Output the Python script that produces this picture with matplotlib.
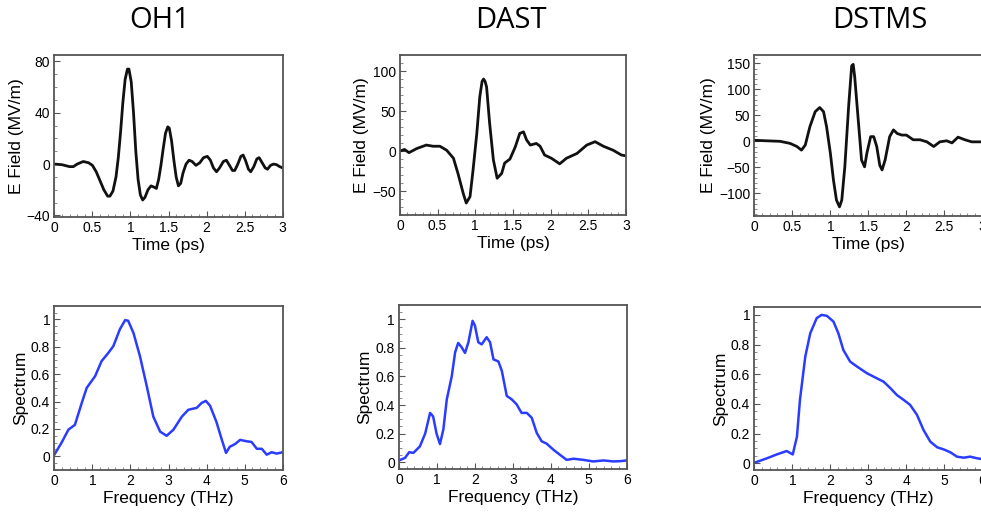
import matplotlib
matplotlib.use("Agg")
import matplotlib.pyplot as plt
from matplotlib.ticker import MultipleLocator

plt.rcParams['font.family'] = ['Liberation Sans', 'DejaVu Sans']

titles = ["OH1", "DAST", "DSTMS"]

# time-domain fields (ps, MV/m)
oh1_t = [0.00, 0.10, 0.20, 0.25, 0.30, 0.38, 0.45, 0.50, 0.55, 0.60, 0.65, 0.70, 0.73, 0.77,
         0.81, 0.84, 0.87, 0.90, 0.93, 0.96, 0.98, 1.01, 1.04, 1.07, 1.10, 1.13, 1.16, 1.19,
         1.23, 1.27, 1.31, 1.34, 1.37, 1.40, 1.43, 1.46, 1.49, 1.51, 1.54, 1.57, 1.60, 1.63,
         1.66, 1.69, 1.73, 1.77, 1.81, 1.86, 1.91, 1.96, 2.01, 2.05, 2.09, 2.13, 2.17, 2.22,
         2.26, 2.30, 2.34, 2.37, 2.41, 2.45, 2.48, 2.51, 2.55, 2.58, 2.62, 2.66, 2.69, 2.73,
         2.77, 2.80, 2.84, 2.88, 2.92, 2.96, 3.00]
oh1_e = [0, -0.5, -2, -2, 0, 2, 1, -1, -6, -13, -20, -25, -25, -21,
         -10, 5, 25, 48, 66, 74, 74, 64, 40, 10, -12, -24, -28, -26,
         -20, -17, -18, -19, -12, -1, 12, 24, 29, 28, 18, 3, -10, -17,
         -15, -7, 0, 3, 2, -1, 1, 5, 6, 3, -3, -6, -3, 2,
         3, -1, -5, -5, 0, 6, 7, 3, -4, -6, -2, 4, 5, 1,
         -3, -4, -1, 0, -0.5, -2, -3]

dast_t = [0.00, 0.06, 0.12, 0.22, 0.35, 0.44, 0.53, 0.62, 0.71, 0.77, 0.84, 0.88, 0.93, 0.97,
          1.02, 1.06, 1.09, 1.11, 1.13, 1.15, 1.19, 1.24, 1.29, 1.35, 1.39, 1.46, 1.53, 1.59,
          1.64, 1.68, 1.73, 1.81, 1.86, 1.92, 2.01, 2.12, 2.21, 2.35, 2.48, 2.59, 2.70, 2.83,
          2.94, 3.00]
dast_e = [0, 2, -2, 3, 7.5, 6, 6, 1, -9, -28, -53, -65, -57, -24,
          22, 68, 87, 90, 87, 80, 35, -11, -34, -28, -15, -10, 5, 22,
          24, 14, 7.5, 9.5, 6, -5, -9, -16, -9, -3, 7.5, 11.7, 6, 1,
          -5, -6]

dstms_t = [0.00, 0.16, 0.34, 0.47, 0.56, 0.62, 0.67, 0.73, 0.80, 0.86, 0.91, 0.95, 1.00, 1.04,
           1.08, 1.12, 1.15, 1.19, 1.24, 1.28, 1.30, 1.32, 1.37, 1.41, 1.45, 1.48, 1.53, 1.57,
           1.61, 1.65, 1.68, 1.72, 1.78, 1.83, 1.88, 1.94, 2.00, 2.09, 2.18, 2.27, 2.36, 2.44,
           2.53, 2.60, 2.68, 2.77, 2.86, 2.97]
dstms_e = [2, 1, 0, -4, -10, -17, -7, 28, 57, 65, 57, 28, -23, -74,
           -113, -126, -113, -49, 67, 145, 148, 124, 35, -36, -49, -23, 9, 9,
           -10, -46, -55, -36, 9, 22, 15, 12, 12, 3, 3, -1, -10, -1,
           1, -3, 8, 3, -1, -1]

# normalised spectra (THz, a.u.)
oh1_f = [0.00, 0.19, 0.37, 0.54, 0.72, 0.85, 1.07, 1.24, 1.42, 1.55, 1.72, 1.86, 1.94, 2.08,
         2.25, 2.43, 2.60, 2.78, 2.95, 3.13, 3.35, 3.52, 3.74, 3.87, 3.98, 4.09, 4.26, 4.39,
         4.51, 4.61, 4.75, 4.88, 5.05, 5.18, 5.32, 5.45, 5.58, 5.71, 5.84, 6.00]
oh1_s = [0.012, 0.10, 0.195, 0.23, 0.39, 0.50, 0.585, 0.695, 0.756, 0.805, 0.927, 0.995, 0.99, 0.90,
         0.73, 0.51, 0.29, 0.18, 0.15, 0.195, 0.29, 0.34, 0.354, 0.39, 0.405, 0.37, 0.25, 0.13,
         0.025, 0.07, 0.09, 0.12, 0.11, 0.105, 0.055, 0.055, 0.012, 0.03, 0.02, 0.03]

dast_f = [0.00, 0.16, 0.27, 0.38, 0.55, 0.69, 0.82, 0.90, 0.99, 1.08, 1.17, 1.26, 1.39, 1.48,
          1.56, 1.65, 1.74, 1.83, 1.94, 2.00, 2.09, 2.18, 2.31, 2.40, 2.49, 2.62, 2.71, 2.84,
          2.97, 3.10, 3.23, 3.37, 3.50, 3.63, 3.76, 3.89, 4.07, 4.24, 4.42, 4.60, 4.86, 5.12,
          5.39, 5.65, 5.83, 6.00]
dast_s = [0.012, 0.03, 0.07, 0.065, 0.11, 0.20, 0.345, 0.32, 0.20, 0.127, 0.23, 0.44, 0.60, 0.77,
          0.835, 0.805, 0.765, 0.84, 0.99, 0.958, 0.84, 0.825, 0.875, 0.84, 0.72, 0.705, 0.64, 0.464,
          0.44, 0.405, 0.345, 0.345, 0.31, 0.205, 0.146, 0.13, 0.087, 0.052, 0.016, 0.024, 0.016, 0.005,
          0.012, 0.005, 0.007, 0.012]

dstms_f = [0.00, 0.33, 0.59, 0.85, 1.01, 1.12, 1.20, 1.34, 1.47, 1.64, 1.77, 1.91, 2.08, 2.21,
           2.34, 2.52, 2.70, 2.96, 3.22, 3.40, 3.58, 3.75, 3.93, 4.10, 4.28, 4.45, 4.63, 4.81,
           4.98, 5.16, 5.33, 5.51, 5.68, 5.86, 5.98]
dstms_s = [0.004, 0.034, 0.06, 0.083, 0.06, 0.18, 0.43, 0.72, 0.876, 0.978, 1.0, 0.993, 0.955, 0.876,
           0.764, 0.685, 0.652, 0.607, 0.573, 0.55, 0.506, 0.46, 0.427, 0.393, 0.326, 0.225, 0.146, 0.108,
           0.094, 0.074, 0.045, 0.038, 0.045, 0.034, 0.029]

time_ticks = [0, 0.5, 1, 1.5, 2, 2.5, 3]
time_ticklabels = ['0', '0.5', '1', '1.5', '2', '2.5', '3']
spec_yticks = [0, 0.2, 0.4, 0.6, 0.8, 1]
spec_yticklabels = ['0', '0.2', '0.4', '0.6', '0.8', '1']

time_data = [(oh1_t, oh1_e), (dast_t, dast_e), (dstms_t, dstms_e)]
spec_data = [(oh1_f, oh1_s), (dast_f, dast_s), (dstms_f, dstms_s)]

time_ylims = [(-41, 85), (-80, 120), (-143, 166)]
time_yticks = [[-40, 0, 40, 80], [-50, 0, 50, 100], [-100, -50, 0, 50, 100, 150]]
spec_ylims = [(-0.1, 1.1), (-0.05, 1.1), (-0.045, 1.055)]

top_boxes = [[0.0554, 0.5768, 0.2328, 0.3158], [0.4077, 0.580, 0.2304, 0.3125], [0.769, 0.5787, 0.2324, 0.3139]]
bot_boxes = [[0.0554, 0.082, 0.2328, 0.3209], [0.4067, 0.0834, 0.2321, 0.3207], [0.769, 0.082, 0.2324, 0.319]]
title_x = [160, 511, 880]


def style(ax):
    for s in ax.spines.values():
        s.set_color('#555555')
        s.set_linewidth(1.3)
    ax.tick_params(which='both', direction='in', top=False, right=False, labelsize=10, pad=3)
    ax.tick_params(which='major', length=4, color='#555555')
    ax.tick_params(which='minor', length=2, color='#777777')


fig = plt.figure(figsize=(9.81, 5.12), dpi=100)

for i in range(3):
    ax = fig.add_axes(top_boxes[i])
    t, e = time_data[i]
    ax.plot(t, e, color='#111111', lw=2)
    ax.set_xlim(0, 3)
    ax.set_ylim(*time_ylims[i])
    ax.set_xticks(time_ticks, time_ticklabels)
    ax.set_yticks(time_yticks[i])
    ax.xaxis.set_minor_locator(MultipleLocator(0.1))
    ax.yaxis.set_minor_locator(MultipleLocator(10))
    ax.set_xlabel('Time (ps)', fontsize=12.5, labelpad=2)
    ax.set_ylabel('E Field (MV/m)', fontsize=12.5, labelpad=2)
    style(ax)

    ax2 = fig.add_axes(bot_boxes[i])
    f, s = spec_data[i]
    ax2.plot(f, s, color='#2a3cff', lw=1.8)
    ax2.set_xlim(0, 6)
    ax2.set_ylim(*spec_ylims[i])
    ax2.set_xticks(range(7))
    ax2.set_yticks(spec_yticks, spec_yticklabels)
    ax2.xaxis.set_minor_locator(MultipleLocator(0.2))
    ax2.yaxis.set_minor_locator(MultipleLocator(0.05))
    ax2.set_xlabel('Frequency (THz)', fontsize=12.5, labelpad=2)
    ax2.set_ylabel('Spectrum', fontsize=12.5, labelpad=2)
    style(ax2)

    fig.text(title_x[i] / 981, 1 - 21 / 512, titles[i], ha='center', va='center',
             fontsize=21, family=['Open Sans', 'DejaVu Sans'])

fig.savefig('out.png', dpi=100)
